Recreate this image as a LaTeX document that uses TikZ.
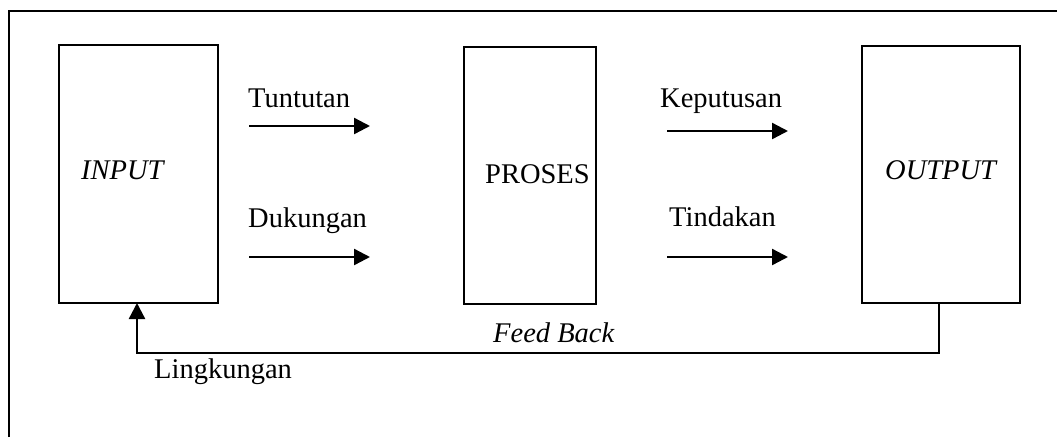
\documentclass[tikz,border=0pt]{standalone}
\usepackage{fontspec}
\setmainfont{Liberation Serif}
\usetikzlibrary{arrows.meta}
\begin{document}
\begin{tikzpicture}[x=1pt,y=-1pt,
  box/.style={draw, line width=2.2pt, inner sep=0pt, outer sep=0pt},
  lbl/.style={inner sep=0pt, anchor=base west, font=\fontsize{28.5}{34}\selectfont},
  arr/.style={line width=2.4pt, -{Triangle[length=16pt,width=16pt]}},
  frame/.style={line width=2.4pt}]
\useasboundingbox (0,0) rectangle (1057,437);
% outer frame (only left and top visible)
\coordinate (f1) at (9,437);
\coordinate (f2) at (9,11);
\coordinate (f3) at (1057,11);
\draw[frame] (f1) -- (f2) -- (f3);
% boxes
\node[box, minimum width=159pt, minimum height=258pt] (in) at (138.5,174) {};
\node[box, minimum width=132pt, minimum height=257pt] (pr) at (530,175.5) {};
\node[box, minimum width=158pt, minimum height=257pt] (out) at (941,174.5) {};
% box labels
\node[lbl] (tin) at (81,179) {\itshape INPUT};
\node[lbl] (tpr) at (485,183) {PROSES};
\node[lbl] (tout) at (885,179) {\itshape OUTPUT};
% arrow labels
\node[lbl] (ttun) at (248,107) {Tuntutan};
\node[lbl] (tduk) at (248,227) {Dukungan};
\node[lbl] (tkep) at (660,107) {Keputusan};
\node[lbl] (ttin) at (669,226) {Tindakan};
% arrows
\coordinate (a1s) at (249,126); \coordinate (a1e) at (370,126);
\coordinate (a2s) at (249,257); \coordinate (a2e) at (370,257);
\coordinate (a3s) at (667,131); \coordinate (a3e) at (788,131);
\coordinate (a4s) at (667,257); \coordinate (a4e) at (788,257);
\draw[arr] (a1s) -- (a1e);
\draw[arr] (a2s) -- (a2e);
\draw[arr] (a3s) -- (a3e);
\draw[arr] (a4s) -- (a4e);
% feedback
\coordinate (fb) at (500,353);
\draw[arr] ([xshift=-2pt]out.south) |- (fb) -| ([xshift=-1.5pt]in.south);
\node[lbl] (tfb) at (493,342) {\itshape Feed Back};
\node[lbl] (tlk) at (154,378) {Lingkungan};
\end{tikzpicture}
\end{document}
